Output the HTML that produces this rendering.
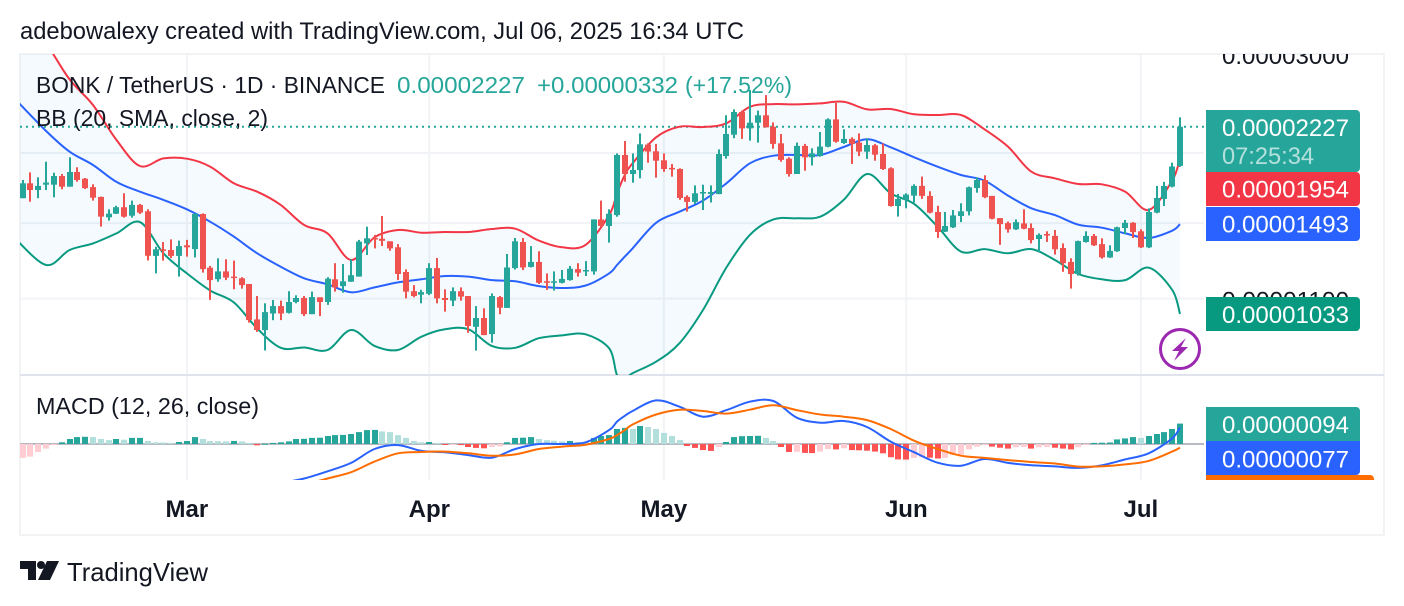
<!DOCTYPE html>
<html lang="en">
<head>
<meta charset="utf-8">
<title>BONK / TetherUS chart</title>
<style>
html,body{margin:0;padding:0;background:#fff;width:1404px;height:606px;overflow:hidden}
svg{display:block;font-family:"Liberation Sans",Arial,sans-serif}
</style>
</head>
<body>
<svg id="chart" xmlns="http://www.w3.org/2000/svg" width="1404" height="606" viewBox="0 0 1404 606">
  <defs>
    <clipPath id="pricePaneClip"><rect x="20" y="54" width="1184" height="321"/></clipPath>
    <clipPath id="macdPaneClip"><rect x="20" y="376" width="1184" height="104"/></clipPath>
    <clipPath id="priceScaleClip"><rect x="1204" y="54" width="180" height="321"/></clipPath>
  </defs>
  <rect x="0" y="0" width="1404" height="606" fill="#ffffff"/>
  <text x="20" y="39" font-size="24" fill="#131722" textLength="724" lengthAdjust="spacingAndGlyphs">adebowalexy created with TradingView.com, Jul 06, 2025 16:34 UTC</text>
  <rect x="20" y="54" width="1364" height="481" fill="none" stroke="#f2f3f5" stroke-width="2"/>
  <g id="gridLayer"></g>
  <line x1="20" y1="375" x2="1384" y2="375" stroke="#e0e3eb" stroke-width="2"/>
  <g id="priceLayer" clip-path="url(#pricePaneClip)"></g>
  <g id="macdLayer" clip-path="url(#macdPaneClip)"></g>
  <g id="priceTickLayer" clip-path="url(#priceScaleClip)"></g>
  <g id="timeTickLayer"></g>

  <text x="36" y="93" font-size="23" fill="#131722" textLength="349" lengthAdjust="spacingAndGlyphs">BONK / TetherUS · 1D · BINANCE</text>
  <text x="397" y="93" font-size="23" fill="#26a69a" textLength="128" lengthAdjust="spacingAndGlyphs">0.00002227</text>
  <text x="537" y="93" font-size="23" fill="#26a69a" textLength="141" lengthAdjust="spacingAndGlyphs">+0.00000332</text>
  <text x="685" y="93" font-size="23" fill="#26a69a" textLength="107" lengthAdjust="spacingAndGlyphs">(+17.52%)</text>
  <text x="36" y="126" font-size="23" fill="#131722" textLength="232" lengthAdjust="spacingAndGlyphs">BB (20, SMA, close, 2)</text>
  <text x="36" y="414" font-size="23" fill="#131722" textLength="223" lengthAdjust="spacingAndGlyphs">MACD (12, 26, close)</text>

  <g>
    <path d="M1206 110h150a4 4 0 0 1 4 4v54a4 4 0 0 1 -4 4h-150z" fill="#26a69a"/>
    <text x="1222" y="136" font-size="24" fill="#ffffff" textLength="127" lengthAdjust="spacingAndGlyphs">0.00002227</text>
    <text x="1222" y="164" font-size="24" fill="#ffffff" fill-opacity="0.65" textLength="92" lengthAdjust="spacingAndGlyphs">07:25:34</text>
  </g>
  <g>
    <path d="M1206 172h150a4 4 0 0 1 4 4v26a4 4 0 0 1 -4 4h-150z" fill="#f23645"/>
    <text x="1222" y="197.500" font-size="24" fill="#ffffff" textLength="127" lengthAdjust="spacingAndGlyphs">0.00001954</text>
  </g>
  <g>
    <path d="M1206 207h150a4 4 0 0 1 4 4v26a4 4 0 0 1 -4 4h-150z" fill="#2962ff"/>
    <text x="1222" y="232.500" font-size="24" fill="#ffffff" textLength="127" lengthAdjust="spacingAndGlyphs">0.00001493</text>
  </g>
  <g>
    <path d="M1206 297h150a4 4 0 0 1 4 4v26a4 4 0 0 1 -4 4h-150z" fill="#089981"/>
    <text x="1222" y="323" font-size="24" fill="#ffffff" textLength="127" lengthAdjust="spacingAndGlyphs">0.00001033</text>
  </g>
  <g>
    <path d="M1206 407h150a4 4 0 0 1 4 4v30h-154z" fill="#26a69a"/>
    <text x="1222" y="433" font-size="24" fill="#ffffff" textLength="127" lengthAdjust="spacingAndGlyphs">0.00000094</text>
  </g>
  <path d="M1206 475h164a4 4 0 0 1 4 4v1h-168z" fill="#ff6d00"/>
  <g>
    <path d="M1206 441h154v30a4 4 0 0 1 -4 4h-150z" fill="#2962ff"/>
    <text x="1222" y="467.500" font-size="24" fill="#ffffff" textLength="127" lengthAdjust="spacingAndGlyphs">0.00000077</text>
  </g>

  <g>
    <circle cx="1180" cy="349" r="19.500" fill="#ffffff" stroke="#9c27b0" stroke-width="3"/>
    <path d="M1186 338 L1172 351 L1179 351 L1174 361 L1188 347 L1181 347 Z" fill="#9c27b0"/>
  </g>

  <g fill="#131722">
    <path d="M20 561h16v19h-8v-11h-8z"/>
    <circle cx="41" cy="565" r="4"/>
    <path d="M47 561h12l-9 19h-12z"/>
  </g>
  <text x="67" y="581" font-size="26" fill="#131722" textLength="141" lengthAdjust="spacingAndGlyphs">TradingView</text>
</svg>

<script>
// Prices are in units of 0.00000001 USDT, one entry per daily bar (Feb 8 to Jul 6, 2025).
const opens = [
1661,1766,1718,1756,1756,1820,1742,1850,1800,1739,
1670,1536,1559,1601,1546,1616,1574,1311,1347,1343,
1311,1369,1348,1557,1249,1191,1230,1204,1196,1168,
1010,967,1035,1067,1038,1085,1103,1032,1106,1085,
1191,1158,1179,1204,1380,1411,1407,1392,1358,1227,
1134,
1118,1122,1247,1103,1091,1134,1112,980,1016,
951,1107,1059,1247,1388,1253,1279,1181,1174,1174,
1187,1242,1230,1230,1523,1482,1550,1984,1835,1865,
2070,2014,1941,1881,1873,1670,1636,1695,1690,1690,
1975,2156,2367,2213,2265,2335,2228,2081,1954,1835,
2059,1965,1975,2053,2296,2084,2119,2087,2011,2064,
1992,1878,1609,1650,1679,1747,1677,1570,1448,1474,
1544,1574,1732,1790,1677,1531,1500,1462,1498,1470,
1405,1434,1423,1354,1279,1217,1388,1423,1376,1303,
1336,1470,1502,1450,1358,1566,1656,1742,1897];
const highs = [
1790,1847,1810,1930,1845,1835,1965,1886,1805,1759,
1672,1587,1610,1695,1645,1623,1587,1361,1388,1403,
1396,1400,1561,1561,1258,1298,1293,1286,1201,1168,
1112,1079,1094,1091,1134,1115,1112,1132,1106,1201,
1272,1268,1293,1400,1478,1429,1544,1392,1376,1240,
1163,
1140,1272,1300,1143,1152,1152,1112,1067,1057,
1124,1112,1321,1411,1411,1365,1336,1220,1230,1237,
1258,1272,1283,1523,1645,1587,1997,2101,1997,2168,
2081,2076,1997,1912,1878,1681,1751,1756,1751,2030,
2335,2392,2380,2590,2380,2537,2268,2162,1965,2087,
2076,2039,2180,2306,2457,2204,2133,2168,2125,2076,
2081,1886,1690,1695,1759,1815,1709,1610,1570,1583,
1627,1742,1810,1825,1677,1531,1510,1523,1587,1498,
1438,1450,1458,1380,1298,1396,1450,1434,1409,1369,
1478,1519,1506,1462,1594,1747,1776,1922,2316];
const lows = [
1661,1638,1661,1718,1668,1723,1742,1778,1725,1645,
1478,1515,1557,1534,1534,1557,1286,1220,1286,1300,
1204,1307,1303,1224,1094,1179,1187,1143,1146,997,
960,889,1007,1007,1035,1079,1024,1032,1024,1072,
1132,1127,1179,1204,1316,1352,1365,1339,1187,1101,
1106,
1079,1116,1079,1043,1067,1091,956,889,947,
918,1032,1059,1240,1237,1250,1168,1140,1137,1171,
1184,1204,1207,1214,1478,1384,1540,1778,1771,1803,
1922,1808,1852,1815,1650,1572,1623,1583,1632,1690,
1955,2125,2119,2104,2087,2222,2036,1930,1815,1835,
1860,1900,1970,2047,2087,2076,1912,1975,1952,1938,
1865,1605,1540,1594,1632,1656,1561,1411,1446,1470,
1506,1548,1699,1661,1523,1372,1442,1458,1462,1380,
1329,1388,1318,1228,1146,1209,1384,1365,1296,1300,
1333,1434,1411,1354,1354,1561,1609,1737,1889];
const closes = [
1766,1718,1747,1771,1820,1742,1850,1790,1732,1665,
1540,1559,1601,1540,1616,1566,1311,1347,1338,1311,
1365,1358,1557,1242,1187,1230,1199,1199,1163,1007,
967,1041,1067,1035,1085,1103,1032,1107,1085,1194,
1152,1181,1211,1390,1409,1403,1395,1352,1217,1132,
1112,
1130,1247,1101,1094,1134,1109,983,1016,947,
1112,1060,1250,1392,1250,1279,1174,1174,1181,1193,
1244,1224,1237,1523,1482,1559,1984,1835,1865,2073,
2011,1938,1873,1870,1663,1636,1695,1704,1704,1992,
2162,2367,2213,2265,2335,2222,2076,1944,1835,2059,
1965,1997,2053,2296,2095,2119,2076,2011,2067,1986,
1873,1609,1656,1686,1747,1677,1566,1446,1482,1548,
1574,1737,1790,1668,1527,1494,1462,1506,1466,1399,
1429,1427,1347,1272,1217,1393,1423,1369,1303,1338,
1474,1502,1446,1358,1570,1663,1747,1892,2227];

const lineBars = [-1,3,6,9,12,15,18,21,24,27,30,33,36,39,42,45,48,51,54,57,60,63,66,69,72,75,76,77,78,81,84,87,90,93,96,99,102,105,108,111,114,117,120,123,126,129,132,135,138,141,144,147,148];
const bbUpper = [3700,3137,2706,2436,2110,1896,1956,1954,1891,1766,1706,1616,1488,1438,1289,1415,1458,1442,1446,1446,1464,1466,1396,1358,1372,1550,1695,1827,1917,2133,2228,2225,2259,2418,2445,2442,2452,2469,2392,2396,2344,2338,2338,2204,2053,1852,1803,1761,1759,1706,1583,1786,1954];
const bbBasis = [2498,2189,2011,1904,1776,1706,1650,1587,1508,1419,1325,1254,1196,1166,1129,1152,1176,1191,1207,1204,1187,1181,1158,1149,1161,1220,1263,1307,1352,1502,1572,1645,1766,1917,1978,1984,1984,2050,2116,2047,1965,1891,1827,1786,1679,1594,1550,1490,1472,1438,1411,1454,1493];
const bbLower = [1410,1263,1343,1380,1438,1506,1325,1220,1137,1083,973,899,900,891,967,906,891,941,970,970,906,899,935,946,950,897,804,793,810,849,916,1050,1250,1429,1523,1530,1540,1650,1835,1695,1623,1478,1334,1348,1325,1348,1289,1217,1191,1187,1249,1140,1033];
const macdLine = [-260,-265,-270,-275,-275,-270,-265,-253,-250,-235,-212,-181,-159,-126,-87,-23,-5,-32,-38,-51,-63,-23,0,0,8,64,103,130,152,201,172,126,156,195,198,121,98,106,78,11,-38,-86,-100,-69,-87,-98,-103,-110,-98,-71,-43,26,77];
const signalLine = [-300,-310,-320,-325,-335,-340,-335,-330,-320,-300,-280,-228,-189,-159,-130,-81,-43,-37,-35,-43,-54,-48,-23,-12,-3,23,41,64,90,136,158,152,140,158,179,156,136,126,110,69,15,-23,-54,-64,-74,-83,-90,-104,-103,-94,-78,-35,-17];
const histogram = [
-64,-58,-37,-21,-5,8,23,32,33,32,23,18,23,20,28,28,14,8,7,5,
9,14,32,23,14,13,12,14,12,5,-6,2,5,8,12,23,24,28,29,37,
41,42,46,55,64,65,58,55,41,28,14,
8,9,5,-4,-3,-5,-14,-18,-20,-14,-11,8,28,29,32,23,18,15,12,14,
9,8,28,37,41,69,74,69,83,78,69,51,37,18,-9,-18,-28,-32,-14,9,
32,36,37,38,28,14,-14,-37,-36,-41,-42,
-35,-23,-25,-20,-28,-29,-31,-35,-43,-61,-71,-72,-64,-61,-63,-67,-64,-51,-49,-25,
-12,-5,-12,-17,-21,-15,-14,-21,-15,-14,-17,-21,-25,-15,-5,5,6,7,21,26,
32,28,37,46,55,69,94];

const monthLabels = ["Mar","Apr","May","Jun","Jul"];
const monthBars = [21,52,82,113,143];
const priceTicks = [3000,2000,1500,1100];
const lastPrice = 2227;

const NS = "http://www.w3.org/2000/svg";
const barStep = 7.82;
const lastBarX = 1180;
const lastBarIndex = closes.length - 1;

function xOf(i){ return lastBarX - (lastBarIndex - i) * barStep; }
function yOf(p){ return 153 + 243.6 * Math.log(2000 / p); }
function yMacd(v){ return 444 - 0.217 * v; }
function make(tag, attrs, parent){
  const el = document.createElementNS(NS, tag);
  for (const k in attrs) el.setAttribute(k, attrs[k]);
  parent.appendChild(el);
  return el;
}
function linePoints(values, scale){
  return values.map(function(v, k){ return [xOf(lineBars[k]), scale(v)]; });
}
// Smooth curve through the points, so sparse readings draw like the dense source line.
function curveSegments(pts){
  let d = "";
  for (let i = 0; i < pts.length - 1; i++) {
    const p0 = pts[Math.max(i - 1, 0)], p1 = pts[i], p2 = pts[i + 1], p3 = pts[Math.min(i + 2, pts.length - 1)];
    const c1x = p1[0] + (p2[0] - p0[0]) / 6, c1y = p1[1] + (p2[1] - p0[1]) / 6;
    const c2x = p2[0] - (p3[0] - p1[0]) / 6, c2y = p2[1] - (p3[1] - p1[1]) / 6;
    d += "C" + c1x.toFixed(1) + " " + c1y.toFixed(1) + " " + c2x.toFixed(1) + " " + c2y.toFixed(1) + " " + p2[0].toFixed(1) + " " + p2[1].toFixed(1);
  }
  return d;
}
function curvePath(pts){
  return "M" + pts[0][0].toFixed(1) + " " + pts[0][1].toFixed(1) + curveSegments(pts);
}

const gridLayer = document.getElementById("gridLayer");
const priceLayer = document.getElementById("priceLayer");
const macdLayer = document.getElementById("macdLayer");
const priceTickLayer = document.getElementById("priceTickLayer");
const timeTickLayer = document.getElementById("timeTickLayer");

// Horizontal grid and price axis labels
priceTicks.forEach(function(t){
  const y = yOf(t);
  if (t !== 3000) {
    const g = make("line", {x1:20, x2:1204, y1:y.toFixed(1), y2:y.toFixed(1), stroke:"#f1f3f6", "stroke-width":2}, gridLayer);
    
    
  }
  const label = make("text", {x:1222, y:(y + 10).toFixed(1), "font-size":24, fill:"#131722", textLength:127, lengthAdjust:"spacingAndGlyphs"}, priceTickLayer);
  label.textContent = (t / 1e8).toFixed(8);
  
  
});

// Vertical grid and time axis labels
monthBars.forEach(function(b, k){
  const x = xOf(b);
  const g = make("line", {x1:x.toFixed(1), x2:x.toFixed(1), y1:54, y2:480, stroke:"#f1f3f6", "stroke-width":2}, gridLayer);
  
  
  const label = make("text", {x:x.toFixed(1), y:517, "font-size":24, "font-weight":"bold", fill:"#131722", "text-anchor":"middle"}, timeTickLayer);
  label.textContent = monthLabels[k];
  
  
});

// Bollinger band fill
const upperPts = linePoints(bbUpper, yOf);
const lowerPts = linePoints(bbLower, yOf);
const lowerRev = lowerPts.slice().reverse();
const fillPath = curvePath(upperPts) + "L" + lowerRev[0][0].toFixed(1) + " " + lowerRev[0][1].toFixed(1) + curveSegments(lowerRev) + "Z";
const bandFill = make("path", {d:fillPath, fill:"#2196f3", "fill-opacity":0.05}, priceLayer);



// Last price line
const lastLine = make("line", {x1:20, x2:1204, y1:yOf(lastPrice).toFixed(1), y2:yOf(lastPrice).toFixed(1), stroke:"#26a69a", "stroke-width":2, "stroke-dasharray":"2 4"}, priceLayer);



// Bollinger lines
const upperLine = make("path", {d:curvePath(upperPts), fill:"none", stroke:"#f23645", "stroke-width":2, "stroke-linejoin":"round"}, priceLayer);


const basisLine = make("path", {d:curvePath(linePoints(bbBasis, yOf)), fill:"none", stroke:"#2962ff", "stroke-width":2, "stroke-linejoin":"round"}, priceLayer);


const lowerLine = make("path", {d:curvePath(lowerPts), fill:"none", stroke:"#089981", "stroke-width":2, "stroke-linejoin":"round"}, priceLayer);



// Candles
closes.forEach(function(c, i){
  const o = opens[i];
  const color = c >= o ? "#26a69a" : "#ef5350";
  const cx = Math.round(xOf(i));
  const top = yOf(Math.max(o, c));
  const bot = yOf(Math.min(o, c));
  const group = make("g", {fill:color}, priceLayer);
  
  
  make("rect", {x:cx - 1, width:2, y:yOf(highs[i]).toFixed(1), height:(yOf(lows[i]) - yOf(highs[i])).toFixed(1)}, group);
  make("rect", {x:cx - 3, width:6, y:top.toFixed(1), height:Math.max(bot - top, 1.5).toFixed(1)}, group);
});

// MACD zero line
const zeroLine = make("line", {x1:20, x2:1204, y1:yMacd(0), y2:yMacd(0), stroke:"#b8bac1", "stroke-width":2}, macdLayer);



// MACD histogram
histogram.forEach(function(v, i){
  const prev = i > 0 ? histogram[i - 1] : v;
  let color;
  if (v >= 0) color = v >= prev ? "#26a69a" : "#b2dfdb";
  else color = v < prev ? "#ff5252" : "#ffcdd2";
  const x = Math.round(xOf(i));
  const y0 = yMacd(0);
  const y1 = yMacd(v);
  const bar = make("rect", {x:x - 3, width:6, y:Math.min(y0, y1).toFixed(1), height:Math.max(Math.abs(y1 - y0), 1).toFixed(1), fill:color}, macdLayer);
  
  
});

// MACD lines
const macdPath = make("path", {d:curvePath(linePoints(macdLine, yMacd)), fill:"none", stroke:"#2962ff", "stroke-width":2, "stroke-linejoin":"round"}, macdLayer);


const signalPath = make("path", {d:curvePath(linePoints(signalLine, yMacd)), fill:"none", stroke:"#ff6d00", "stroke-width":2, "stroke-linejoin":"round"}, macdLayer);


</script>
</body>
</html>
